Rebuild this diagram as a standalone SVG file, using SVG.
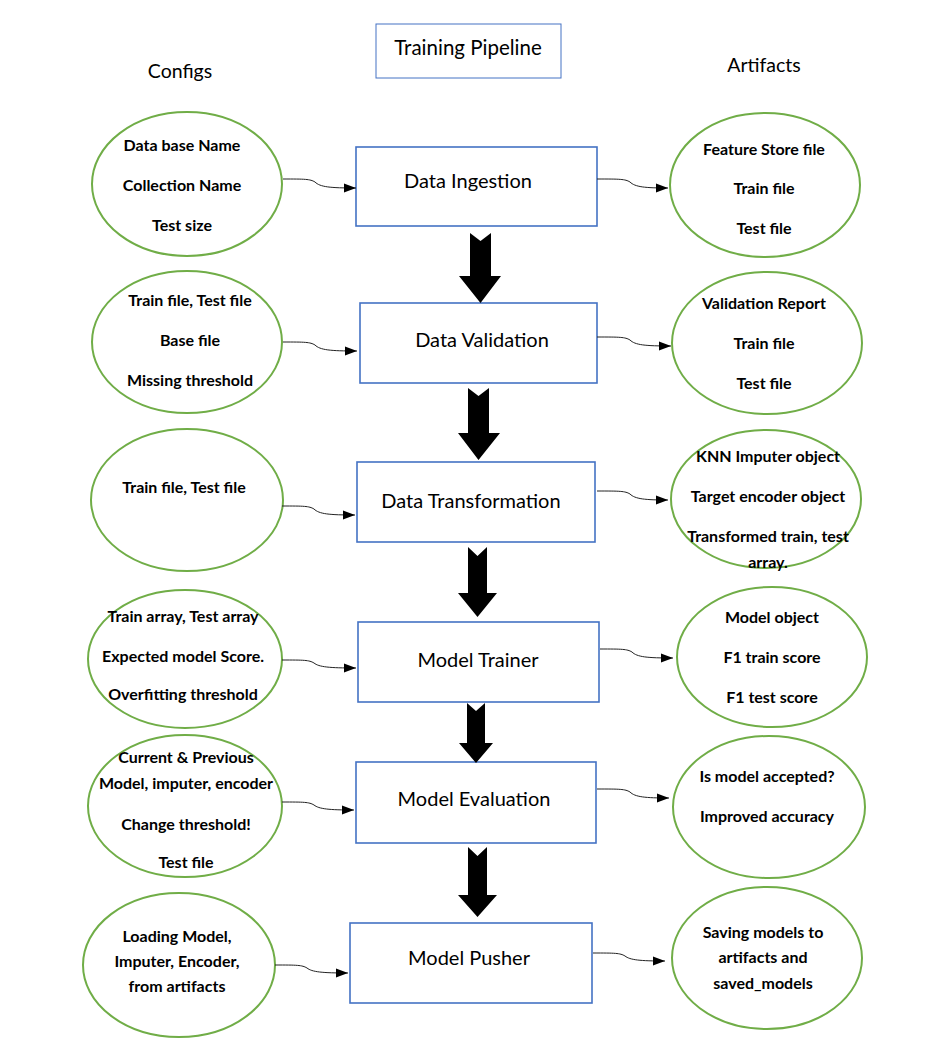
<svg xmlns="http://www.w3.org/2000/svg" width="938" height="1059" viewBox="0 0 938 1059">
<style>
text{font-family:Lato,"Liberation Sans",sans-serif;fill:#000;text-anchor:middle}
.h{font-size:20.5px}
.c{font-size:19.5px}
.l{font-size:20px}
.e{font-size:16px;font-weight:bold}
.box{fill:#fff;stroke:#4472C4;stroke-width:1.6}
.ell{fill:#fff;stroke:#70AD47;stroke-width:2}
.con{fill:none;stroke:#222;stroke-width:1}
.big{fill:#000}
</style>
<defs>
<marker id="ah" markerUnits="userSpaceOnUse" markerWidth="12" markerHeight="12" viewBox="0 0 12 12" refX="12" refY="6" orient="auto">
<path d="M0,1.5 L12,6 L0,10.5 Z" fill="#000"/>
</marker>
</defs>
<rect width="938" height="1059" fill="#fff"/>
<g id="title">
<rect x="376" y="24" width="185" height="54" fill="#fff" stroke="#4472C4" stroke-width="1"/>
<text class="h" x="468" y="55">Training Pipeline</text>
</g>
<g id="configs-label"><text class="c" x="180" y="78">Configs</text></g>
<g id="artifacts-label"><text class="c" x="764" y="72">Artifacts</text></g>

<g id="data-ingestion"><rect class="box" x="356" y="147" width="241" height="79"/><text class="l" x="468" y="188">Data Ingestion</text></g>
<g id="data-validation"><rect class="box" x="360" y="303" width="237" height="80"/><text class="l" x="482" y="347">Data Validation</text></g>
<g id="data-transformation"><rect class="box" x="357" y="462" width="238" height="80"/><text class="l" x="471" y="508">Data Transformation</text></g>
<g id="model-trainer"><rect class="box" x="358" y="622" width="241" height="80"/><text class="l" x="478" y="667">Model Trainer</text></g>
<g id="model-evaluation"><rect class="box" x="356" y="762" width="240" height="81"/><text class="l" x="474" y="806">Model Evaluation</text></g>
<g id="model-pusher"><rect class="box" x="350" y="923" width="242" height="80"/><text class="l" x="469" y="965">Model Pusher</text></g>

<g id="cfg-ingestion"><ellipse class="ell" cx="187" cy="184" rx="95" ry="72"/>
<text class="e" x="182" y="151">Data base Name</text><text class="e" x="182" y="191">Collection Name</text><text class="e" x="182" y="231">Test size</text></g>
<g id="cfg-validation"><ellipse class="ell" cx="187" cy="342" rx="95" ry="71"/>
<text class="e" x="190" y="306">Train file, Test file</text><text class="e" x="190" y="346">Base file</text><text class="e" x="190" y="386">Missing threshold</text></g>
<g id="cfg-transformation"><ellipse class="ell" cx="187" cy="500" rx="96" ry="71"/>
<text class="e" x="184" y="493">Train file, Test file</text></g>
<g id="cfg-trainer"><ellipse class="ell" cx="185" cy="659" rx="97" ry="69"/>
<text class="e" x="183" y="622">Train array, Test array</text><text class="e" x="183" y="662">Expected model Score.</text><text class="e" x="183" y="700">Overfitting threshold</text></g>
<g id="cfg-evaluation"><ellipse class="ell" cx="185" cy="806" rx="97" ry="71"/>
<text class="e" x="186" y="763">Current &amp; Previous</text><text class="e" x="186" y="789">Model, imputer, encoder</text><text class="e" x="186" y="830">Change threshold!</text><text class="e" x="186" y="868">Test file</text></g>
<g id="cfg-pusher"><ellipse class="ell" cx="179" cy="965" rx="96" ry="72"/>
<text class="e" x="177" y="942">Loading Model,</text><text class="e" x="177" y="967">Imputer, Encoder,</text><text class="e" x="177" y="992">from artifacts</text></g>

<g id="art-ingestion"><ellipse class="ell" cx="765" cy="185" rx="95" ry="72"/>
<text class="e" x="764" y="155">Feature Store file</text><text class="e" x="764" y="194">Train file</text><text class="e" x="764" y="234">Test file</text></g>
<g id="art-validation"><ellipse class="ell" cx="767" cy="343" rx="95" ry="71"/>
<text class="e" x="764" y="309">Validation Report</text><text class="e" x="764" y="349">Train file</text><text class="e" x="764" y="389">Test file</text></g>
<g id="art-transformation"><ellipse class="ell" cx="766" cy="499" rx="95" ry="69"/>
<text class="e" x="768" y="462">KNN Imputer object</text><text class="e" x="768" y="502">Target encoder object</text><text class="e" x="768" y="542">Transformed train, test</text><text class="e" x="768" y="568">array.</text></g>
<g id="art-trainer"><ellipse class="ell" cx="772" cy="657" rx="95" ry="70"/>
<text class="e" x="772" y="623">Model object</text><text class="e" x="772" y="663">F1 train score</text><text class="e" x="772" y="703">F1 test score</text></g>
<g id="art-evaluation"><ellipse class="ell" cx="769" cy="807" rx="96" ry="71"/>
<text class="e" x="767" y="782">Is model accepted?</text><text class="e" x="767" y="822">Improved accuracy</text></g>
<g id="art-pusher"><ellipse class="ell" cx="767" cy="958" rx="95" ry="71"/>
<text class="e" x="763" y="938">Saving models to</text><text class="e" x="763" y="963">artifacts and</text><text class="e" x="763" y="989">saved_models</text></g>

<g id="connectors">
<path class="con" marker-end="url(#ah)" d="M283,179 C305,179 310,179 315,182 C320,187 330,188 356,188"/>
<path class="con" marker-end="url(#ah)" d="M597,179 C620,179 625,179 630,182 C635,187 645,188 668,188"/>
<path class="con" marker-end="url(#ah)" d="M283,342 C305,342 310,342 315,345 C320,350 330,351 357,351"/>
<path class="con" marker-end="url(#ah)" d="M597,337 C620,337 625,337 630,340 C635,345 645,346 671,346"/>
<path class="con" marker-end="url(#ah)" d="M282,506 C304,506 309,506 314,509 C319,514 329,515 355,515"/>
<path class="con" marker-end="url(#ah)" d="M597,491 C620,491 625,491 630,494 C635,499 645,500 668,500"/>
<path class="con" marker-end="url(#ah)" d="M282,660 C304,660 309,660 314,663 C319,667 329,668 356,668"/>
<path class="con" marker-end="url(#ah)" d="M600,649 C622,649 627,649 632,652 C637,657 647,658 673,658"/>
<path class="con" marker-end="url(#ah)" d="M282,802 C304,802 309,802 314,805 C319,809 329,810 354,810"/>
<path class="con" marker-end="url(#ah)" d="M597,789 C620,789 625,789 630,792 C635,797 645,798 669,798"/>
<path class="con" marker-end="url(#ah)" d="M275,965 C297,965 302,965 307,968 C312,972 322,973 348,973"/>
<path class="con" marker-end="url(#ah)" d="M593,953 C615,953 620,953 625,956 C630,960 640,961 665,961"/>
</g>

<g id="flow-arrows">
<path class="big" d="M470,233 L480.5,241 L491,233 L491,276 L501,276 L480.5,303 L459,276 L470,276 Z"/>
<path class="big" d="M468,388 L478.5,396 L489,388 L489,433 L500,433 L478.5,460 L458,433 L468,433 Z"/>
<path class="big" d="M468,547 L477.5,556 L487,547 L487,593 L497,593 L477.5,617 L458,593 L468,593 Z"/>
<path class="big" d="M467,703 L476,711 L485,703 L485,743 L493,743 L476,763 L459,743 L467,743 Z"/>
<path class="big" d="M468,847 L477.5,856 L487,847 L487,895 L497,895 L477.5,917 L458,895 L468,895 Z"/>
</g>
</svg>
